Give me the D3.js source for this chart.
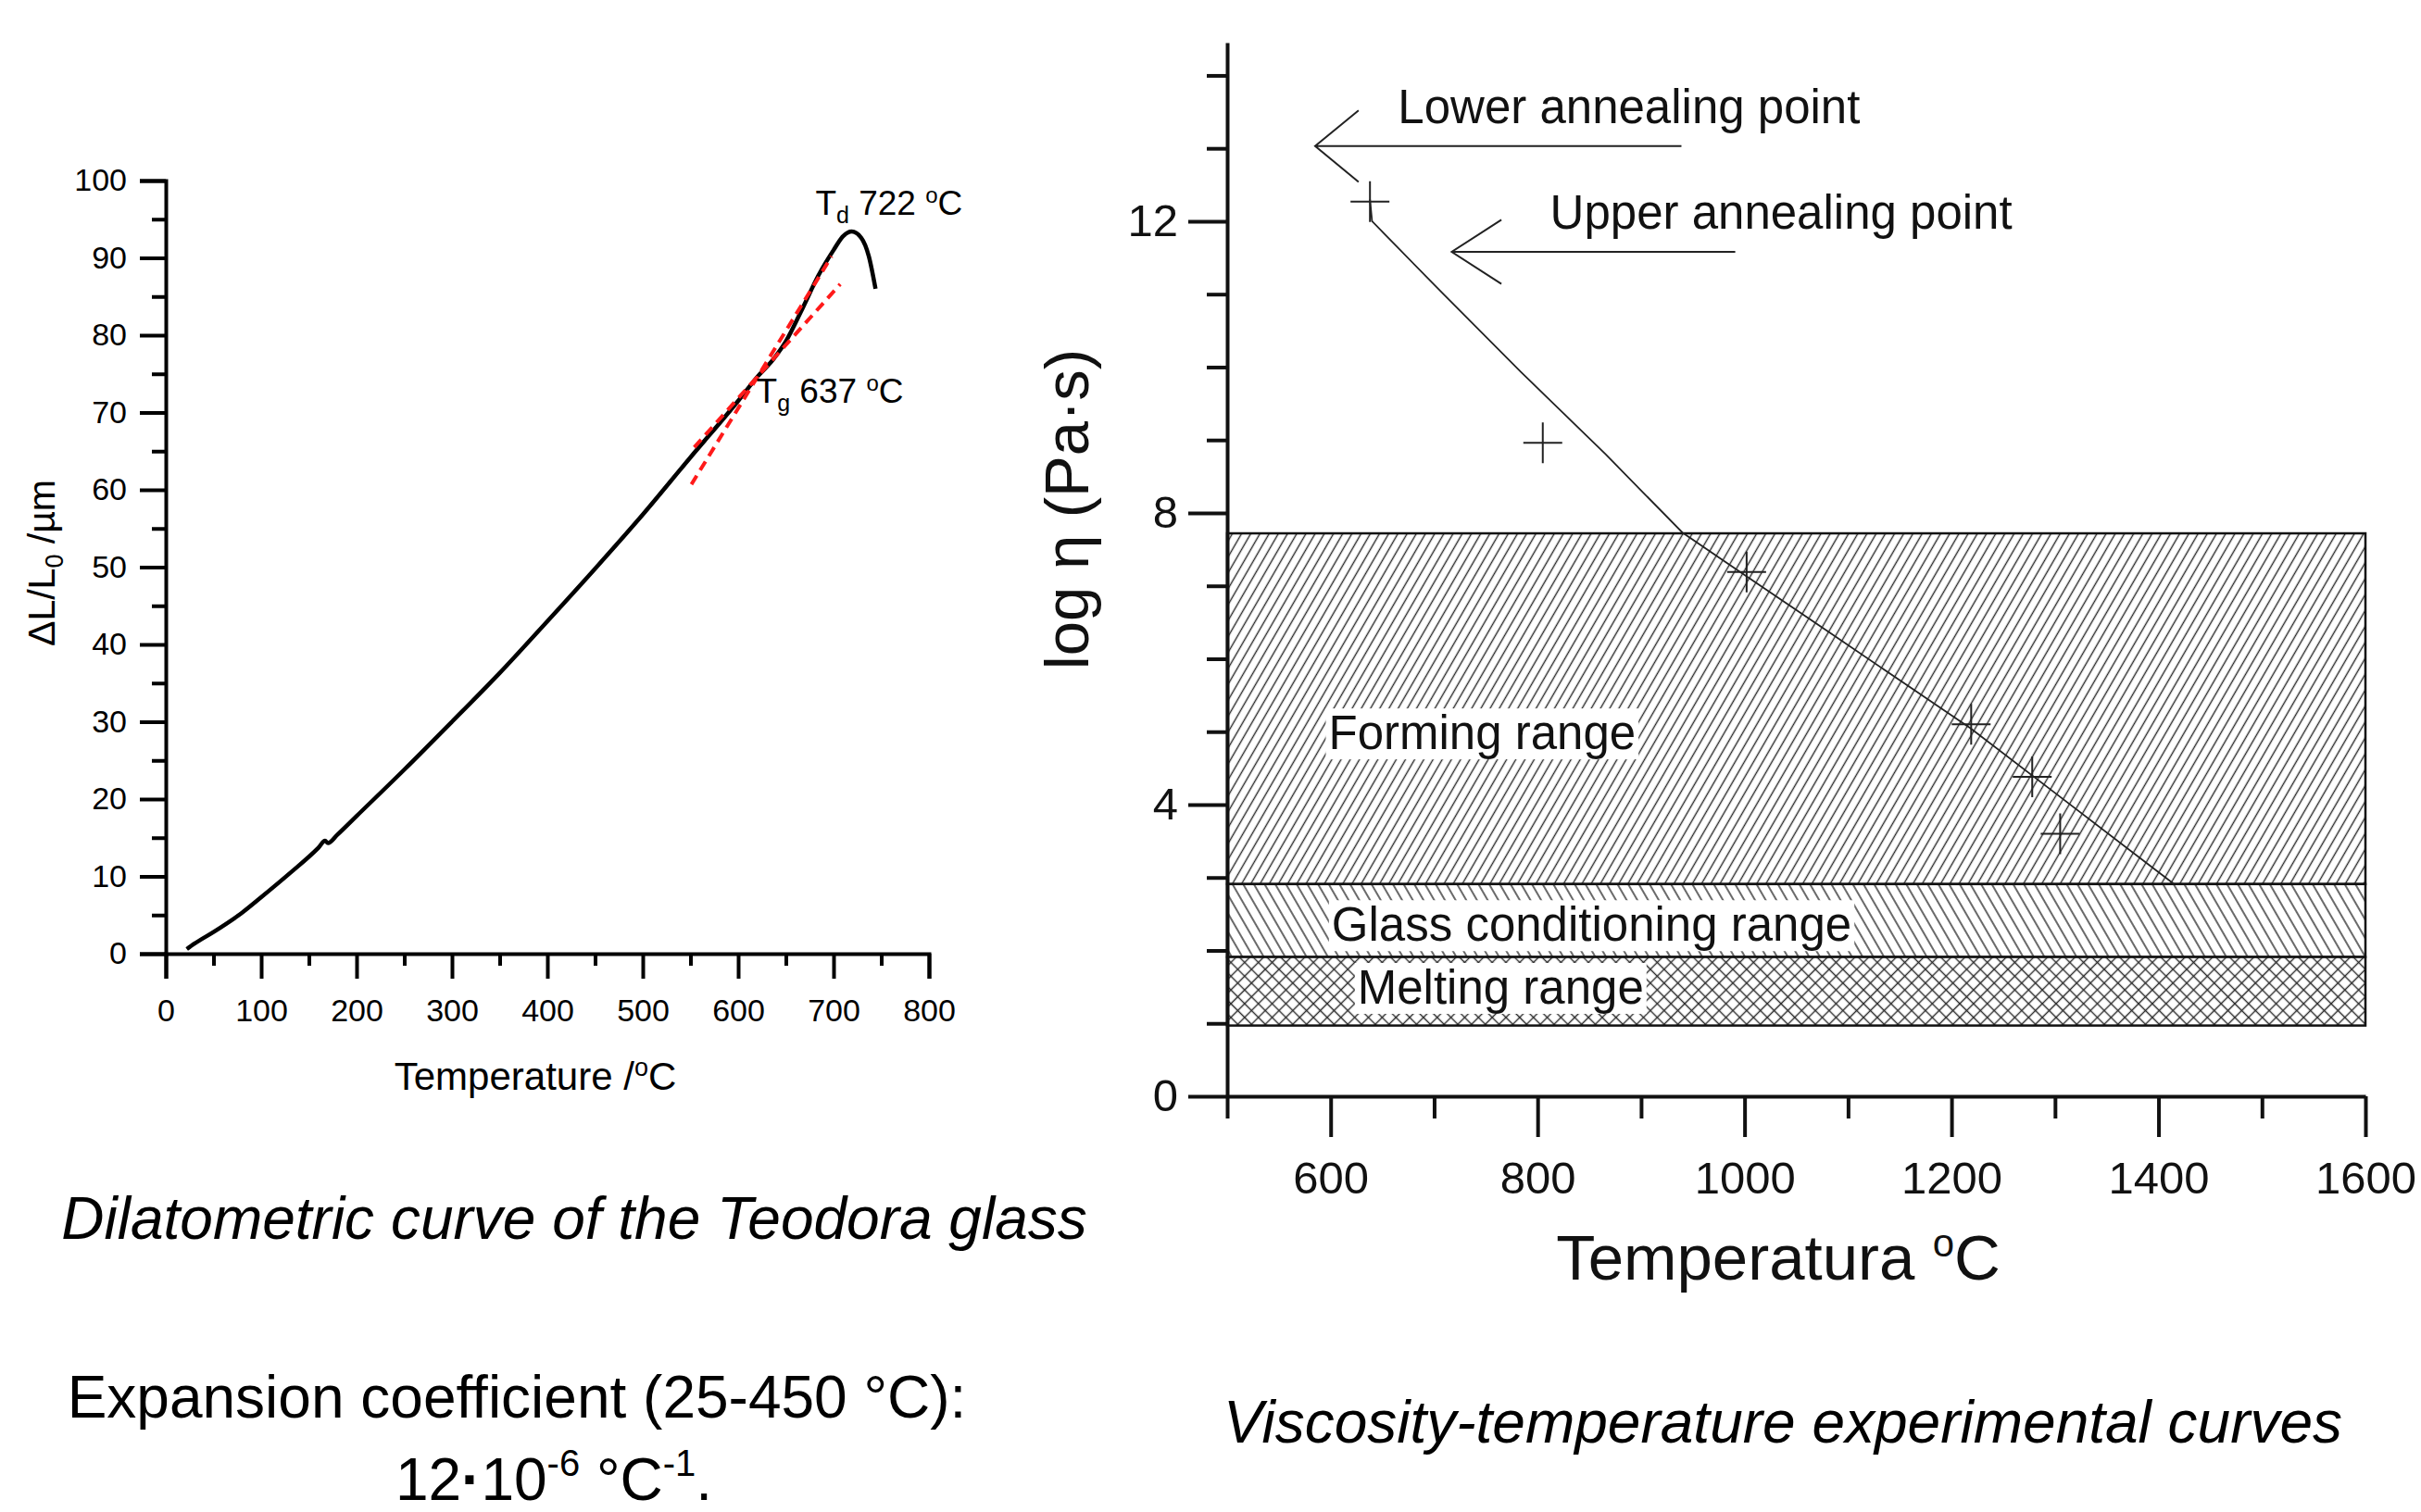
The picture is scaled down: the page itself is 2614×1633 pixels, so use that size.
<!DOCTYPE html>
<html lang="en">
<head>
<meta charset="UTF-8">
<title>Teodora glass - dilatometry and viscosity</title>
<script src="https://d3js.org/d3.v7.min.js"></script>
<style>
  body { margin: 0; background: #fff; }
  svg { display: block; font-family: "Liberation Sans", Arial, sans-serif; }
  .caption { font-size: 64px; fill: #000; }
</style>
</head>
<body>
<svg width="2614" height="1633"></svg>
<script>
// dilatometric curve (temperature ºC, dL/L0 µm)
const dilTemp = [22, 30, 50, 80, 100, 130, 160, 167, 170, 180, 200, 250, 300, 350, 400, 450, 500, 550, 600, 620, 637, 650, 668, 684, 700, 710, 719, 729, 737, 744];
const dilLen  = [0.6, 1.3, 2.8, 5.3, 7.3, 10.4, 13.7, 14.6, 14.3, 15.4, 17.8, 23.8, 30.0, 36.3, 43.0, 49.8, 56.8, 64.2, 71.5, 74.6, 76.9, 79.2, 83.6, 87.7, 91.0, 92.8, 93.4, 92.6, 90.2, 86.0];
// red tangent lines
const tanSteepTemp = [551, 698];
const tanSteepLen  = [60.7, 90.2];
const tanGlassTemp = [554, 707];
const tanGlassLen  = [65.5, 86.6];

// viscosity curve
const viscTemp = [638, 640, 709, 784, 866, 940, 1000, 1080, 1163, 1218, 1300, 1415];
const viscLog  = [12.3, 12.0, 11.0, 9.93, 8.8, 7.73, 7.15, 6.38, 5.58, 5.05, 4.16, 2.91];
const pointTemp = [638, 805, 1002, 1219, 1278, 1305];
const pointLog  = [12.27, 8.96, 7.19, 5.10, 4.38, 3.60];
// working ranges
const rangeNames = ["Forming range", "Glass conditioning range", "Melting range"];
const rangeLow   = [2.91, 1.91, 0.97];
const rangeHigh  = [7.72, 2.91, 1.91];
const rangeFill  = ["hatchFwd", "hatchBack", "hatchCross"];
// arrows: tip, tail, two barbs
const arrowNames = ["Lower annealing point", "Upper annealing point"];
const arrowTipTemp  = [585, 717];
const arrowTailTemp = [939, 991];
const arrowLog      = [13.03, 11.58];
const barbTemp      = [627, 765];
const barbDLog      = [0.49, 0.44];

const svg = d3.select("svg");
svg.append("rect").attr("width", 2614).attr("height", 1633).attr("fill", "#fff");

function styleAxis(g, w, size, color) {
  g.attr("font-family", null).attr("font-size", null);
  g.select(".domain").attr("stroke", color).attr("stroke-width", w);
  g.selectAll(".tick line").attr("stroke", color).attr("stroke-width", w);
  g.selectAll(".tick text").attr("font-size", size).attr("fill", color);
}

// ---------------- left chart ----------------
const xL = d3.scaleLinear().domain([0, 800]).range([179, 1003]);
const yL = d3.scaleLinear().domain([0, 100]).range([1030, 195]);

svg.append("g").attr("transform", `translate(0,${yL(0)})`)
  .call(d3.axisBottom(xL).tickValues(d3.range(50, 800, 100)).tickSize(13).tickFormat(""))
  .call(g => g.select(".domain").remove())
  .call(g => styleAxis(g, 4, 34, "#000"));
svg.append("g").attr("transform", `translate(${xL(0)},0)`)
  .call(d3.axisLeft(yL).tickValues(d3.range(5, 100, 10)).tickSize(15).tickFormat(""))
  .call(g => g.select(".domain").remove())
  .call(g => styleAxis(g, 4, 34, "#000"));
svg.append("g").attr("transform", `translate(0,${yL(0)})`)
  .call(d3.axisBottom(xL).tickValues(d3.range(0, 801, 100)).tickSize(27).tickSizeOuter(27).tickPadding(22))
  .call(g => styleAxis(g, 4, 34, "#000"));
svg.append("g").attr("transform", `translate(${xL(0)},0)`)
  .call(d3.axisLeft(yL).tickValues(d3.range(0, 101, 10)).tickSize(28).tickSizeOuter(28).tickPadding(14))
  .call(g => styleAxis(g, 4, 34, "#000"));

const lineL = d3.line().x(d => xL(d[0])).y(d => yL(d[1]));
svg.append("path")
  .attr("d", lineL.curve(d3.curveMonotoneX)(d3.zip(dilTemp, dilLen)))
  .attr("fill", "none").attr("stroke", "#000").attr("stroke-width", 4.5);
[[tanSteepTemp, tanSteepLen], [tanGlassTemp, tanGlassLen]].forEach(([t, v]) => {
  svg.append("path")
    .attr("d", d3.line().x(d => xL(d[0])).y(d => yL(d[1]))(d3.zip(t, v)))
    .attr("fill", "none").attr("stroke", "#ff1a1a").attr("stroke-width", 4)
    .attr("stroke-dasharray", "11,7");
});

// Td / Tg labels
function tempLabel(x, y, sub, value) {
  const t = svg.append("text").attr("x", x).attr("y", y).attr("font-size", 37).attr("fill", "#000");
  t.append("tspan").text("T");
  t.append("tspan").attr("font-size", 25).attr("dy", 9).text(sub);
  t.append("tspan").attr("dy", -9).text(" " + value + " ");
  t.append("tspan").attr("font-size", 24).attr("dy", -13).text("o");
  t.append("tspan").attr("dy", 13).text("C");
}
tempLabel(xL(681), yL(95.6), "d", 722);
tempLabel(xL(619), yL(71.3), "g", 637);

// axis titles
const xtL = svg.append("text").attr("x", 578).attr("y", 1177).attr("text-anchor", "middle")
  .attr("font-size", 42).attr("fill", "#000");
xtL.append("tspan").text("Temperature /");
xtL.append("tspan").attr("font-size", 27).attr("dy", -15).text("o");
xtL.append("tspan").attr("dy", 15).text("C");
const ytL = svg.append("text").attr("transform", "translate(59,608) rotate(-90)")
  .attr("text-anchor", "middle").attr("font-size", 41).attr("fill", "#000");
ytL.append("tspan").text("\u0394L/L");
ytL.append("tspan").attr("font-size", 27).attr("dy", 9).text("0");
ytL.append("tspan").attr("dy", -9).text(" /\u00b5m");

// ---------------- right chart ----------------
const xR = d3.scaleLinear().domain([500, 1600]).range([1325, 2554]);
const yR = d3.scaleLinear().domain([0, 14.45]).range([1184, 46]);

const defs = svg.append("defs");
function hatch(id, spacing, angle, cross) {
  const p = defs.append("pattern").attr("id", id).attr("patternUnits", "userSpaceOnUse")
    .attr("width", spacing).attr("height", spacing)
    .attr("patternTransform", `rotate(${angle})`);
  p.append("rect").attr("width", spacing).attr("height", spacing).attr("fill", "#fff");
  p.append("line").attr("x1", spacing / 2).attr("x2", spacing / 2).attr("y1", -1).attr("y2", spacing + 1)
    .attr("stroke", "#2a2a2a").attr("stroke-width", 1.4);
  if (cross) {
    p.append("line").attr("y1", spacing / 2).attr("y2", spacing / 2).attr("x1", -1).attr("x2", spacing + 1)
      .attr("stroke", "#2a2a2a").attr("stroke-width", 1.4);
  }
}
hatch("hatchFwd", 8.6, 30, false);
hatch("hatchBack", 10, -30, false);
hatch("hatchCross", 10.5, 45, true);

rangeNames.forEach((n, i) => {
  svg.append("rect")
    .attr("x", xR(500)).attr("y", yR(rangeHigh[i]))
    .attr("width", xR(1600) - xR(500)).attr("height", yR(rangeLow[i]) - yR(rangeHigh[i]))
    .attr("fill", `url(#${rangeFill[i]})`).attr("stroke", "#111").attr("stroke-width", 2.5);
});

svg.append("g").attr("transform", `translate(0,${yR(0)})`)
  .call(d3.axisBottom(xR).tickValues(d3.range(500, 1600, 200)).tickSize(24).tickFormat(""))
  .call(g => g.select(".domain").remove())
  .call(g => styleAxis(g, 4, 49, "#111"));
svg.append("g").attr("transform", `translate(${xR(500)},0)`)
  .call(d3.axisLeft(yR).tickValues([1, 2, 3, 5, 6, 7, 9, 10, 11, 13, 14]).tickSize(22).tickFormat(""))
  .call(g => g.select(".domain").remove())
  .call(g => styleAxis(g, 4, 49, "#111"));
svg.append("g").attr("transform", `translate(0,${yR(0)})`)
  .call(d3.axisBottom(xR).tickValues(d3.range(600, 1601, 200)).tickFormat(d3.format("d"))
    .tickSize(44).tickSizeOuter(0).tickPadding(26))
  .call(g => styleAxis(g, 4, 49, "#111"));
svg.append("g").attr("transform", `translate(${xR(500)},0)`)
  .call(d3.axisLeft(yR).tickValues([0, 4, 8, 12]).tickSize(42).tickSizeOuter(0).tickPadding(11))
  .call(g => styleAxis(g, 4, 49, "#111"));

// curve and experimental points
svg.append("path")
  .attr("d", d3.line().x(d => xR(d[0])).y(d => yR(d[1]))(d3.zip(viscTemp, viscLog)))
  .attr("fill", "none").attr("stroke", "#222").attr("stroke-width", 1.8);
d3.zip(pointTemp, pointLog).forEach(([t, v]) => {
  const cx = xR(t), cy = yR(v);
  svg.append("path")
    .attr("d", `M${cx - 21},${cy}H${cx + 21}M${cx},${cy - 22}V${cy + 22}`)
    .attr("stroke", "#222").attr("stroke-width", 2).attr("fill", "none");
});

// range labels on white boxes
const labelTemp = [598, 601, 626];
const labelLog = [4.76, 2.13, 1.27];
rangeNames.forEach((n, i) => {
  const t = svg.append("text").attr("x", xR(labelTemp[i])).attr("y", yR(labelLog[i]))
    .attr("font-size", 51).attr("fill", "#111").text(n);
  const b = t.node().getBBox();
  svg.insert("rect", () => t.node())
    .attr("x", b.x - 3).attr("y", b.y + 2).attr("width", b.width + 6).attr("height", b.height - 2)
    .attr("fill", "#fff");
});

// annealing point arrows
arrowNames.forEach((n, i) => {
  const tip = [xR(arrowTipTemp[i]), yR(arrowLog[i])];
  svg.append("path")
    .attr("d", `M${xR(arrowTailTemp[i])},${tip[1]}H${tip[0]}` +
      `M${xR(barbTemp[i])},${yR(arrowLog[i] + barbDLog[i])}L${tip[0]},${tip[1]}L${xR(barbTemp[i])},${yR(arrowLog[i] - barbDLog[i])}`)
    .attr("fill", "none").attr("stroke", "#222").attr("stroke-width", 2);
});
const annTemp = [665, 812];
const annLog = [13.35, 11.9];
arrowNames.forEach((n, i) => {
  svg.append("text").attr("x", xR(annTemp[i])).attr("y", yR(annLog[i]))
    .attr("font-size", 51).attr("fill", "#111").text(n);
});

// axis titles
const xtR = svg.append("text").attr("x", 1920).attr("y", 1382).attr("text-anchor", "middle")
  .attr("font-size", 69).attr("fill", "#111");
xtR.append("tspan").text("Temperatura ");
xtR.append("tspan").attr("font-size", 42).attr("dy", -25).text("o");
xtR.append("tspan").attr("dy", 25).text("C");
svg.append("text").attr("transform", "translate(1175,550) rotate(-90)")
  .attr("text-anchor", "middle").attr("font-size", 67).attr("fill", "#111")
  .text("log \u03b7 (Pa\u00b7s)");

// captions
svg.append("text").attr("class", "caption").attr("x", 620).attr("y", 1338)
  .attr("text-anchor", "middle").attr("font-style", "italic")
  .text("Dilatometric curve of the Teodora glass");
svg.append("text").attr("class", "caption").attr("x", 1925).attr("y", 1558)
  .attr("text-anchor", "middle").attr("font-style", "italic")
  .text("Viscosity-temperature experimental curves");
svg.append("text").attr("class", "caption").attr("x", 558).attr("y", 1531)
  .attr("text-anchor", "middle")
  .text("Expansion coefficient (25-450 \u00b0C):");
const coef = svg.append("text").attr("class", "caption").attr("x", 598).attr("y", 1620)
  .attr("text-anchor", "middle");
coef.append("tspan").text("12");
coef.append("tspan").attr("font-weight", "bold").text("\u00b7");
coef.append("tspan").text("10");
coef.append("tspan").attr("font-size", 40).attr("dy", -26).text("-6");
coef.append("tspan").attr("dy", 26).text(" \u00b0C");
coef.append("tspan").attr("font-size", 40).attr("dy", -26).text("-1");
coef.append("tspan").attr("dy", 26).text(".");
</script>
</body>
</html>
